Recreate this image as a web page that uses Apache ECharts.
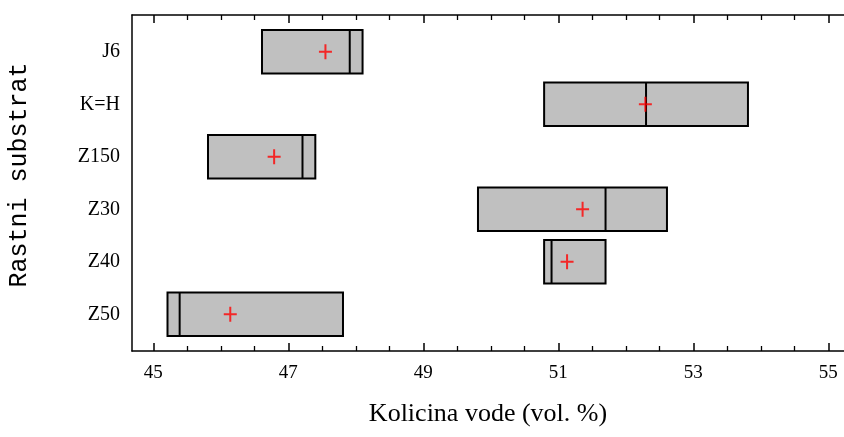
<!DOCTYPE html>
<html>
<head>
<meta charset="utf-8">
<script src="https://cdn.jsdelivr.net/npm/echarts@6/dist/echarts.min.js"></script>
<style>html,body{margin:0;padding:0;background:#fff}#c{width:844px;height:437px}</style>
</head>
<body>
<div id="c"></div>
<script>
var categories = ['J6', 'K=H', 'Z150', 'Z30', 'Z40', 'Z50'];
var lowerVals = [46.61, 50.79, 45.81, 49.81, 50.79, 45.21];
var upperVals = [48.10, 53.81, 47.40, 52.61, 51.70, 47.81];
var medianVals = [47.91, 52.30, 47.21, 51.70, 50.90, 45.39];
var meanVals = [47.55, 52.29, 46.79, 51.36, 51.13, 46.14];
var majorTicks = [45, 47, 49, 51, 53, 55];
var minorTicks = [45.5, 46, 46.5, 47.5, 48, 48.5, 49.5, 50, 50.5, 51.5, 52, 52.5, 53.5, 54, 54.5, 55.5];
var xTitle = 'Kolicina vode (vol. %)';
var yTitle = 'Rastni substrat';

var XMIN = 44.684, XMAX = 55.233;
var BOXHALF = 0.413;

var boxData = categories.map(function (c, i) {
  return [i + 1, lowerVals[i], upperVals[i], medianVals[i]];
});
var meanData = categories.map(function (c, i) {
  return [meanVals[i], i + 1];
});

var hiddenLabel = function (vals) {
  return { show: true, customValues: vals, color: 'rgba(0,0,0,0)', fontSize: 1 };
};

function xAxisDef(opts) {
  var base = {
    type: 'value', min: XMIN, max: XMAX, gridIndex: 0,
    splitLine: { show: false },
    axisLine: { show: false, onZero: false, lineStyle: { color: '#000', width: 1.5 } }
  };
  for (var k in opts) base[k] = opts[k];
  return base;
}

var serif = '"Liberation Serif", "Times New Roman", serif';

var option = {
  backgroundColor: '#fff',
  animation: false,
  grid: { left: 132, top: 15, width: 712, height: 336, outerBoundsMode: 'none', containLabel: false },
  xAxis: [
    xAxisDef({
      position: 'bottom',
      axisLine: { show: true, onZero: false, lineStyle: { color: '#000', width: 1.5 } },
      axisTick: { show: true, inside: true, length: 8, customValues: majorTicks, lineStyle: { color: '#000', width: 1.5 } },
      axisLabel: { show: true, customValues: majorTicks, margin: 13, color: '#000', fontFamily: serif, fontSize: 19 },
      name: xTitle, nameLocation: 'middle', nameGap: 50,
      nameTextStyle: { color: '#000', fontFamily: serif, fontSize: 26 }
    }),
    xAxisDef({
      position: 'bottom',
      axisTick: { show: true, inside: true, length: 5, customValues: minorTicks, lineStyle: { color: '#000', width: 1.3 } },
      axisLabel: hiddenLabel(minorTicks)
    }),
    xAxisDef({
      position: 'top',
      axisLine: { show: true, onZero: false, lineStyle: { color: '#000', width: 1.5 } },
      axisTick: { show: true, inside: true, length: 8, customValues: majorTicks, lineStyle: { color: '#000', width: 1.5 } },
      axisLabel: hiddenLabel(majorTicks)
    }),
    xAxisDef({
      position: 'top',
      axisTick: { show: true, inside: true, length: 5, customValues: minorTicks, lineStyle: { color: '#000', width: 1.3 } },
      axisLabel: hiddenLabel(minorTicks)
    })
  ],
  yAxis: {
    type: 'value', inverse: true, min: 0.3, max: 6.7,
    splitLine: { show: false },
    axisLine: { show: true, onZero: false, lineStyle: { color: '#000', width: 1.5 } },
    axisTick: { show: false },
    axisLabel: {
      show: true, customValues: [1, 2, 3, 4, 5, 6], margin: 12,
      color: '#000', fontFamily: serif, fontSize: 20,
      formatter: function (v) { return categories[Math.round(v) - 1] || ''; }
    },
    name: yTitle, nameLocation: 'middle', nameGap: 100, nameRotate: 90,
    nameTextStyle: { color: '#000', fontFamily: '"Liberation Mono", "DejaVu Sans Mono", monospace', fontSize: 25, padding: [0, 0, 0, 16] }
  },
  series: [
    {
      type: 'custom',
      xAxisIndex: 0,
      yAxisIndex: 0,
      data: boxData,
      encode: { x: [1, 2, 3], y: 0 },
      renderItem: function (params, api) {
        var cat = api.value(0);
        var lo = api.value(1), hi = api.value(2), med = api.value(3);
        var p1 = api.coord([lo, cat - BOXHALF]);
        var p2 = api.coord([hi, cat + BOXHALF]);
        var m1 = api.coord([med, cat - BOXHALF]);
        var m2 = api.coord([med, cat + BOXHALF]);
        return {
          type: 'group',
          children: [
            {
              type: 'rect',
              shape: { x: p1[0], y: p1[1], width: p2[0] - p1[0], height: p2[1] - p1[1] },
              style: { fill: '#c0c0c0', stroke: '#000', lineWidth: 2 }
            },
            {
              type: 'line',
              shape: { x1: m1[0], y1: m1[1], x2: m2[0], y2: m2[1] },
              style: { stroke: '#000', lineWidth: 2 }
            }
          ]
        };
      },
      z: 2
    },
    {
      type: 'scatter',
      xAxisIndex: 0,
      yAxisIndex: 0,
      data: meanData,
      symbol: 'path://M0,6.5h13v2h-13z M5.5,0h2v15h-2z',
      symbolSize: [13, 15],
      itemStyle: { color: '#ff0000' },
      z: 3
    }
  ]
};

var chart = echarts.init(document.getElementById('c'), null, { renderer: 'canvas' });
chart.setOption(option);
</script>
</body>
</html>
